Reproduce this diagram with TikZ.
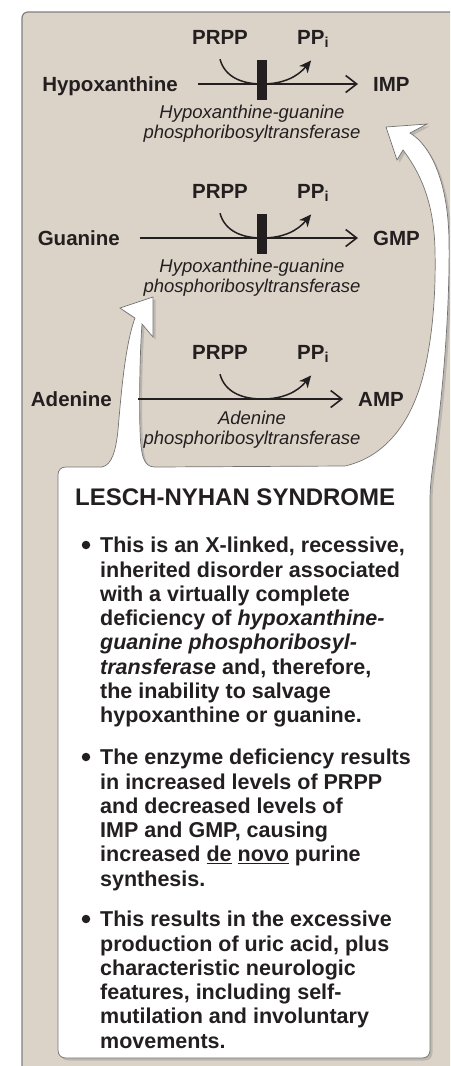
\documentclass[tikz,border=0pt]{standalone}
\usepackage{fontspec}
\setmainfont{Liberation Sans}
\usetikzlibrary{arrows.meta,shadows}
\definecolor{panelTan}{RGB}{220,211,200}
\definecolor{inkDark}{RGB}{35,31,32}
\tikzset{
  chem/.style={font=\bfseries\fontsize{20.5}{22}\selectfont, text=inkDark, inner sep=0pt},
  enzyme/.style={font=\itshape\fontsize{18.5}{20}\selectfont, text=inkDark, align=center, inner sep=0pt, anchor=north},
  rxn/.style={draw=inkDark, line width=1.5pt, -{Straight Barb[length=11pt,width=17pt,line width=1.6pt]}},
  cosub/.style={draw=inkDark, line width=1.5pt, -{Stealth[length=12pt,width=11pt,inset=3.5pt]}},
  block/.style={fill=inkDark, minimum width=10pt, minimum height=40pt, inner sep=0pt},
  note/.style={font=\bfseries\fontsize{21.5}{24.3}\selectfont, text=inkDark, align=left, anchor=north west, inner sep=0pt},
  dot/.style={circle, fill=inkDark, minimum size=8.5pt, inner sep=0pt},
}
\begin{document}
\begin{tikzpicture}[x=1pt,y=-1pt]
    \useasboundingbox (0,0) rectangle (450,1066);
    \clip (0,0) rectangle (450,1066);
    % Panel
    \filldraw[fill=panelTan, draw=gray, line width=1.2pt, rounded corners=6pt]
        (22,1090) -- (22,12) -- (480,12) -- (480,1090) -- cycle;
    % Callout with its two arrows
    \filldraw[fill=white, draw=black!55, line width=0.7pt,
              drop shadow={opacity=0.35, shadow xshift=2.5pt, shadow yshift=-2.5pt}]
        (58,1050) -- (58,475) .. controls (58,470) and (61,467) .. (66,467)
        -- (102,467) .. controls (112,465) and (116,450) .. (118,430)
        .. controls (121,395) and (125,345) .. (135,318)
        -- (120,308) -- (153,297) -- (153,337) -- (142,324)
        .. controls (140,350) and (139,400) .. (140,430)
        .. controls (141,455) and (143,467) .. (155,467)
        -- (345,466) .. controls (380,458) and (408,430) .. (422,380)
        .. controls (433,340) and (436,290) .. (435,250)
        .. controls (434,205) and (422,175) .. (403,150)
        -- (397,160) -- (386,127) -- (427,124) -- (410,133)
        .. controls (430,145) and (448,180) .. (449,240)
        .. controls (450,300) and (444,380) .. (437,433)
        .. controls (434,460) and (430,480) .. (430,500)
        -- (430,1050) .. controls (430,1055) and (427,1058) .. (422,1058)
        -- (66,1058) .. controls (61,1058) and (58,1055) .. (58,1050) -- cycle;
    % Salvage reactions
    \foreach \i/\y/\sub/\subx/\prod/\prodx/\gap/\dy/\enz in {
        1/84/Hypoxanthine/178/IMP/373/20/21/{Hypoxanthine-guanine\\phosphoribosyltransferase},
        2/238/Guanine/120/GMP/373/20/21/{Hypoxanthine-guanine\\phosphoribosyltransferase},
        3/399/Adenine/112/AMP/358/26/12/{Adenine\\phosphoribosyltransferase}}{
        \node[chem, anchor=base east] (sub\i) at (\subx,\y+7) {\sub};
        \node[chem, anchor=base west] (prod\i) at (\prodx,\y+7) {\prod};
        \node[chem, anchor=base] (prpp\i) at (220,\y-40) {PRPP};
        \node[chem, anchor=base west] (ppi\i) at (297,\y-40) {PP\textsubscript{i}};
        \node[enzyme] (enz\i) at (252,\y+\dy) {\enz};
        \coordinate (mid\i) at (262,\y);
        \draw[rxn, shorten <=\gap pt, shorten >=15pt] (sub\i.east |- mid\i) -- (prod\i.west |- mid\i);
        \draw[cosub] ([yshift=-15pt]prpp\i.south) to[out=-75,in=180] (mid\i)
            to[out=0,in=-130] ([xshift=-2pt,yshift=-13pt]ppi\i.south);
    }
    % Enzyme blocks
    \node[block] (bar1) at (262,80) {};
    \node[block] (bar2) at (262,234) {};
    % Text of the callout
    \node[font=\bfseries\fontsize{24}{26}\selectfont, text=inkDark, anchor=base west, inner sep=0pt]
        (title) at (75,505) {LESCH-NYHAN SYNDROME};
    \node[note] (note1) at (100,537) {This is an X-linked, recessive,\\
        inherited disorder associated\\
        with a virtually complete\\
        deficiency of \textit{hypoxanthine-}\\
        \textit{guanine phosphoribosyl-}\\
        \textit{transferase} and, therefore,\\
        the inability to salvage\\
        hypoxanthine or guanine.};
    \node[note] (note2) at (100,749) {The enzyme deficiency results\\
        in increased levels of PRPP\\
        and decreased levels of\\
        IMP and GMP, causing\\
        increased \underline{de} \underline{novo} purine\\
        synthesis.};
    \node[note] (note3) at (100,911) {This results in the excessive\\
        production of uric acid, plus\\
        characteristic neurologic\\
        features, including self-\\
        mutilation and involuntary\\
        movements.};
    \foreach \n/\yy in {1/545, 2/757, 3/919}{
        \node[dot] (bullet\n) at (86,\yy) {};
    }
\end{tikzpicture}
\end{document}
